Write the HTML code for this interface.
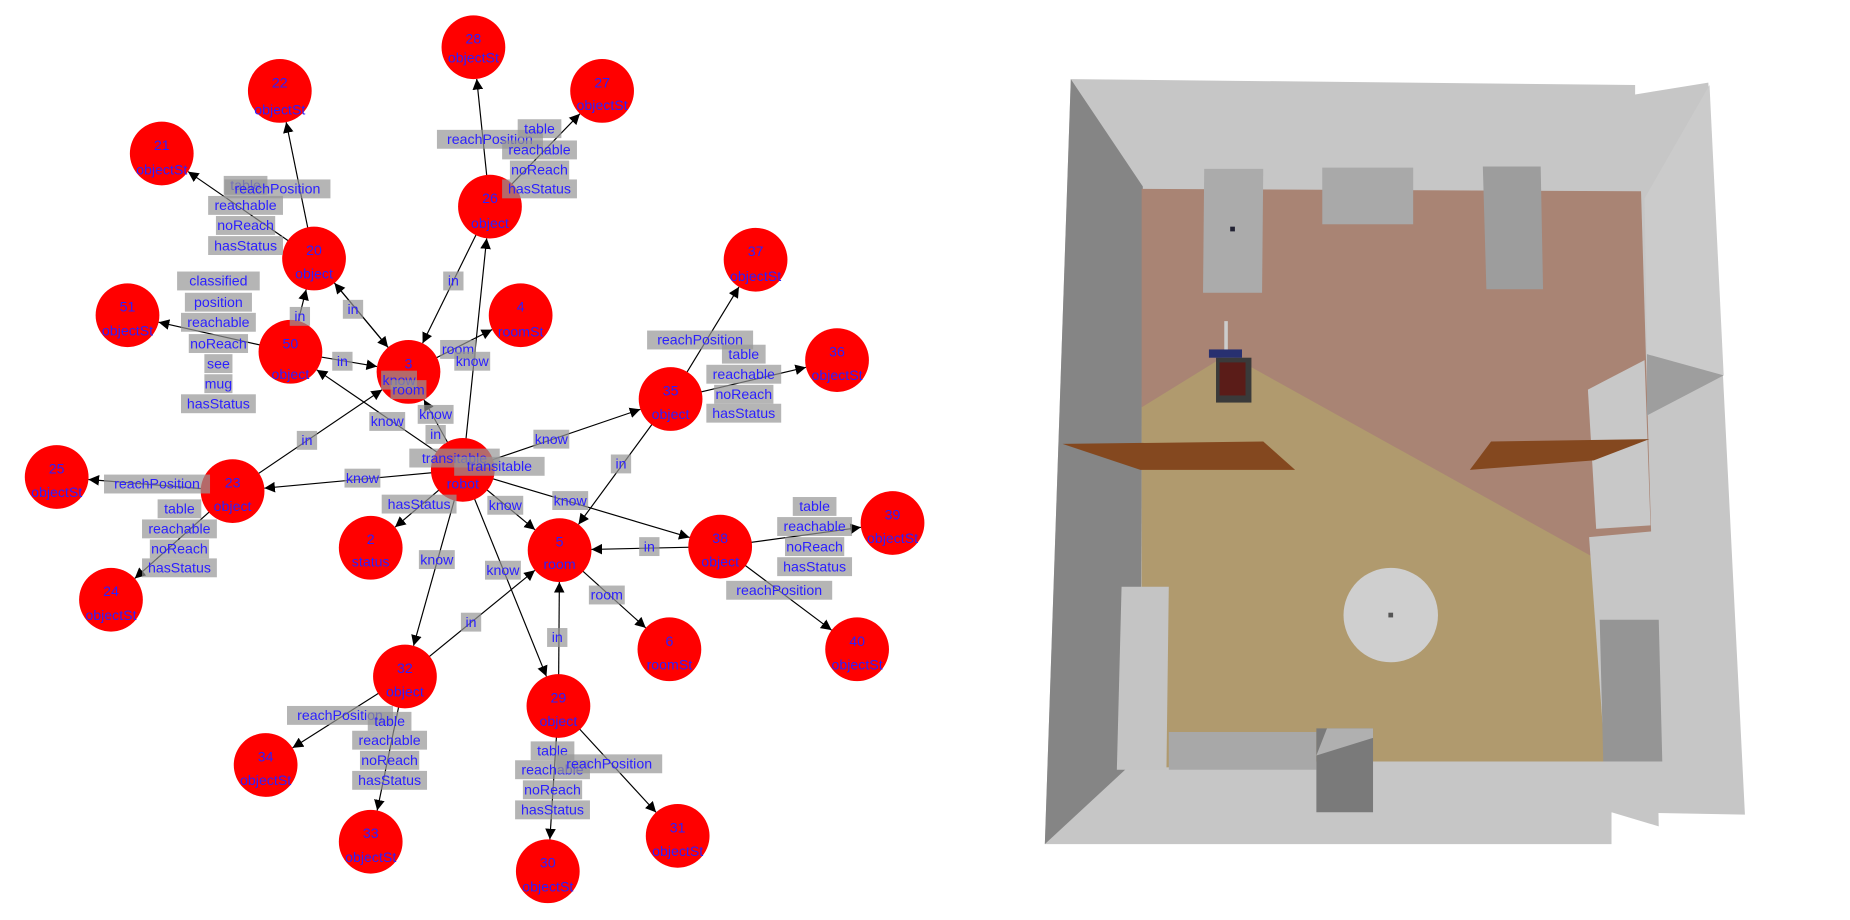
<!DOCTYPE html>
<html><head><meta charset="utf-8"><style>
html,body{margin:0;padding:0;background:#fff;width:1850px;height:920px;overflow:hidden;position:relative}
svg{display:block}
</style></head><body>
<svg id="s" width="1850" height="920" viewBox="0 0 1567 779.3" preserveAspectRatio="none" xmlns="http://www.w3.org/2000/svg">
<defs><marker id="a" viewBox="0 0 10 10" refX="10" refY="5" markerWidth="9" markerHeight="9" markerUnits="userSpaceOnUse" orient="auto"><path d="M0,0L10,5L0,10z" fill="#000"/></marker></defs>
<g>
<polygon points="907,67 1385,72 1385,80 1447,70 1478,690 1365,688 1365,715 885,715" fill="#c6c6c6"/>
<polygon points="907,67 968,158 966,640 885,715" fill="#858585"/>
<polygon points="967,160 1390,162 1400,500 967,345" fill="#a98474"/>
<polygon points="967,345 1040,300 1400,500 1398,645 1115,645 988,650 967,640" fill="#b09a6e"/>
<polygon points="1393,168 1448,72 1460,318 1395,300" fill="#cbcbcb"/>
<polygon points="1395,300 1460,318 1395,352" fill="#9e9e9e"/>
<polygon points="1345,330 1393,305 1398,445 1352,448" fill="#c8c8c8"/>
<polygon points="1346,455 1400,450 1405,700 1365,688 1360,650" fill="#c6c6c6"/>
<polygon points="1020,143 1070,143 1069,248 1019,248" fill="#ababab"/>
<polygon points="1120,142 1197,142 1197,190 1120,190" fill="#a9a9a9"/>
<polygon points="1256,141 1305,141 1307,245 1259,245" fill="#9d9d9d"/>
<polygon points="900,376 1070,374 1097,398 966,398" fill="#84481f"/>
<polygon points="1263,374 1397,372 1350,390 1245,398" fill="#84481f"/>
<polygon points="950,497 990,497 988,652 946,652" fill="#c4c4c4"/>
<polygon points="990,620 1115,620 1115,652 990,652" fill="#a8a8a8"/>
<polygon points="1355,525 1405,525 1408,645 1358,645" fill="#959595"/>
<polygon points="1115,617 1163,617 1163,688 1115,688" fill="#7a7a7a"/>
<polygon points="1124,617 1163,617 1163,625 1115,640" fill="#b0b0b0"/>
<ellipse cx="1178" cy="521" rx="40" ry="40" fill="#cfcfcf"/>
<rect x="1176" y="519" width="4" height="4" fill="#555"/>
<rect x="1030" y="303" width="30" height="38" fill="#3a3a3a"/>
<rect x="1033" y="307" width="22" height="28" fill="#5a1c18"/>
<rect x="1024" y="296" width="28" height="7" fill="#283070"/>
<rect x="1037" y="272" width="3" height="24" fill="#ccc"/>
<rect x="1042" y="192" width="4" height="4" fill="#223"/>
</g>
<g id="edges" stroke="#000" stroke-width="1" fill="none"></g>
<g id="nodes"></g>
<g fill="#2b1fff" font-family="Liberation Sans, sans-serif" font-size="12" text-anchor="middle">
<text x="401" y="37">28</text><text x="401" y="53">objectSt</text>
<text x="237" y="74">22</text><text x="237" y="97">objectSt</text>
<text x="510" y="74">27</text><text x="510" y="93">objectSt</text>
<text x="137" y="127">21</text><text x="137" y="148">objectSt</text>
<text x="415" y="172">26</text><text x="415" y="193">object</text>
<text x="266" y="216">20</text><text x="266" y="236">object</text>
<text x="640" y="217">37</text><text x="640" y="238">objectSt</text>
<text x="108" y="264">51</text><text x="108" y="284">objectSt</text>
<text x="441" y="264">4</text><text x="441" y="285">roomSt</text>
<text x="246" y="295">50</text><text x="246" y="321">object</text>
<text x="346" y="312">3</text>
<text x="709" y="302">36</text><text x="709" y="322">objectSt</text>
<text x="568" y="335">35</text><text x="568" y="355">object</text>
<text x="48" y="401">25</text><text x="48" y="421">objectSt</text>
<text x="197" y="413">23</text><text x="197" y="433">object</text>
<text x="392" y="414">robot</text>
<text x="314" y="461">2</text><text x="314" y="480">status</text>
<text x="474" y="463">5</text><text x="474" y="482">room</text>
<text x="610" y="460">38</text><text x="610" y="480">object</text>
<text x="756" y="440">39</text><text x="756" y="460">objectSt</text>
<text x="94" y="505">24</text><text x="94" y="525">objectSt</text>
<text x="567" y="547">6</text><text x="567" y="567">roomSt</text>
<text x="726" y="547">40</text><text x="726" y="567">objectSt</text>
<text x="343" y="570">32</text><text x="343" y="590">object</text>
<text x="473" y="595">29</text><text x="473" y="615">object</text>
<text x="225" y="645">34</text><text x="225" y="665">objectSt</text>
<text x="574" y="705">31</text><text x="574" y="725">objectSt</text>
<text x="314" y="710">33</text><text x="314" y="730">objectSt</text>
<text x="464" y="735">30</text><text x="464" y="755">objectSt</text>
</g>
<g id="L" font-family="Liberation Sans, sans-serif" font-size="12" text-anchor="middle"></g>
</svg>
<script>
var ns="http://www.w3.org/2000/svg",R=27;
var N={28:[401,40],22:[237,77],27:[510,77],21:[137,130],26:[415,175],20:[266,219],37:[640,220],51:[108,267],4:[441,267],50:[246,298],3:[346,315],36:[709,305],35:[568,338],25:[48,404],23:[197,416],r:[392,398],2:[314,464],5:[474,466],38:[610,463],39:[756,443],24:[94,508],6:[567,550],40:[726,550],32:[343,573],29:[473,598],34:[225,648],31:[574,708],33:[314,713],30:[464,738]};
var E=[[26,28],[26,27],[20,22],[20,21],['r',26],[26,3],[3,20],[20,3],[50,20],[50,51],[50,3],[3,4],['r',3],['r',50],[23,3],['r',23],[23,25],[23,24],['r',2],['r',35],[35,37],[35,36],[35,5],['r',5],['r',38],[38,5],[38,39],[38,40],[5,6],['r',32],[32,5],['r',29],[29,5],[32,34],[32,33],[29,30],[29,31]];
var eg=document.getElementById('edges');
E.forEach(function(e){var a=N[e[0]],b=N[e[1]];var dx=b[0]-a[0],dy=b[1]-a[1],d=Math.hypot(dx,dy);var l=document.createElementNS(ns,'line');l.setAttribute('x1',a[0]);l.setAttribute('y1',a[1]);l.setAttribute('x2',b[0]-dx/d*R);l.setAttribute('y2',b[1]-dy/d*R);l.setAttribute('marker-end','url(#a)');eg.appendChild(l);});
var ng=document.getElementById('nodes');
for(var k in N){var v=N[k];var c=document.createElementNS(ns,'circle');c.setAttribute('cx',v[0]);c.setAttribute('cy',v[1]);c.setAttribute('r',R);c.setAttribute('fill','#ff0000');ng.appendChild(c);}
var LB=[['reachPosition',415,118],['table',457,109],['reachable',457,127],['noReach',457,144],['hasStatus',457,160],
['table',208,157],['reachPosition',235,160],['reachable',208,174],['noReach',208,191],['hasStatus',208,208],
['classified',185,238],['position',185,256],['reachable',185,273],['noReach',185,291],['see',185,308],['mug',185,325],['hasStatus',185,342],
['in',384,238],['in',254,268],['in',299,262],['in',290,306],['room',388,296],['know',400,306],['know',338,322],['room',346,330],['know',328,357],['know',369,351],['in',369,368],['in',260,373],['transitable',385,388],['transitable',423,395],['know',307,405],
['reachPosition',133,410],['table',152,431],['reachable',152,448],['noReach',152,465],['hasStatus',152,481],['hasStatus',355,427],['know',428,428],['know',370,474],['know',426,483],['know',467,372],['know',483,424],['in',526,393],
['reachPosition',593,288],['table',630,300],['reachable',630,317],['noReach',630,334],['hasStatus',630,350],['in',550,463],['table',690,429],['reachable',690,446],['noReach',690,463],['hasStatus',690,480],['reachPosition',660,500],['room',514,504],['in',399,527],['in',472,540],
['reachPosition',288,606],['table',330,611],['reachable',330,627],['noReach',330,644],['hasStatus',330,661],['table',468,636],['reachable',468,652],['noReach',468,669],['hasStatus',468,686],['reachPosition',516,647]];
var G=document.getElementById('L');
LB.forEach(function(l){var w=l[0].length*6.6+4;var r=document.createElementNS(ns,'rect');r.setAttribute('x',l[1]-w/2);r.setAttribute('y',l[2]-8);r.setAttribute('width',w);r.setAttribute('height',16);r.setAttribute('fill','rgba(150,150,150,0.7)');G.appendChild(r);var t=document.createElementNS(ns,'text');t.setAttribute('x',l[1]);t.setAttribute('y',l[2]+4);t.setAttribute('fill','#2b1fff');t.textContent=l[0];G.appendChild(t);});
</script>
</body></html>
